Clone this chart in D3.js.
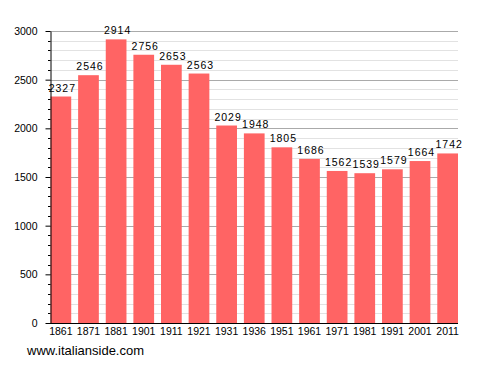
<!DOCTYPE html>
<html>
<head>
  <meta charset="utf-8">
  <script src="https://d3js.org/d3.v7.min.js"></script>
  <style>
    body { margin: 0; background: #fff; }
    text { font-family: "Liberation Sans", Arial, sans-serif; fill: #000; }
    .tick-label { font-size: 10.5px; }
    .value-label { font-size: 10.5px; letter-spacing: 1px; text-anchor: middle; }
    .bar { fill: #ff6464; }
  </style>
</head>
<body>
  <script>
    var years = ["1861", "1871", "1881", "1901", "1911", "1921", "1931", "1936",
                 "1951", "1961", "1971", "1981", "1991", "2001", "2011"];
    var population = [2327, 2546, 2914, 2756, 2653, 2563, 2029, 1948,
                      1805, 1686, 1562, 1539, 1579, 1664, 1742];
    var majorTicks = [0, 500, 1000, 1500, 2000, 2500, 3000];
    var minorTicks = d3.range(0, 3001, 100);

    var data = years.map((y, i) => ({ year: y, value: population[i] }));

    var svg = d3.select("body").append("svg")
        .attr("width", 488)
        .attr("height", 373);

    var x = d3.scaleBand()
        .domain(years)
        .range([50.5, 458])
        .paddingInner(0.25)
        .paddingOuter(0);

    var y = d3.scaleLinear()
        .domain([0, 3000])
        .range([323, 31]);

    // minor grid
    svg.append("g").selectAll("line")
        .data(minorTicks.filter(d => d % 500 !== 0))
      .enter().append("line")
        .attr("x1", 50).attr("x2", 458)
        .attr("y1", d => Math.round(y(d)) + 0.5)
        .attr("y2", d => Math.round(y(d)) + 0.5)
        .attr("stroke", "#e2e2e2");

    // major grid
    svg.append("g").selectAll("line")
        .data(majorTicks.filter(d => d > 0))
      .enter().append("line")
        .attr("x1", 50).attr("x2", 458)
        .attr("y1", d => Math.round(y(d)) + 0.5)
        .attr("y2", d => Math.round(y(d)) + 0.5)
        .attr("stroke", "#aaaaaa");

    // bars
    svg.selectAll(".bar")
        .data(data)
      .enter().append("rect")
        .attr("class", "bar")
        .attr("x", d => x(d.year))
        .attr("width", x.bandwidth())
        .attr("y", d => y(d.value))
        .attr("height", d => y(0) - y(d.value));

    // value labels
    svg.selectAll(".value-label")
        .data(data)
      .enter().append("text")
        .attr("class", "value-label")
        .attr("x", d => x(d.year) + x.bandwidth() / 2 + 1.5)
        .attr("y", d => y(d.value) - 5)
        .text(d => d.value);

    // y axis
    var yAxis = d3.axisLeft(y).tickValues(majorTicks).tickFormat(d3.format("d"))
        .tickSize(5).tickSizeOuter(0).tickPadding(8);
    var yg = svg.append("g").attr("transform", "translate(50.5,0)").call(yAxis);
    yg.select(".domain").attr("stroke", "#000");
    yg.selectAll(".tick line").attr("stroke", "#000");
    yg.selectAll(".tick text").attr("class", "tick-label").attr("font-family", null).attr("font-size", null);

    // minor y ticks
    svg.append("g").selectAll("line")
        .data(minorTicks.filter(d => d % 500 !== 0))
      .enter().append("line")
        .attr("x1", 48).attr("x2", 50.5)
        .attr("y1", d => Math.round(y(d)) + 0.5)
        .attr("y2", d => Math.round(y(d)) + 0.5)
        .attr("stroke", "#000");

    // x axis
    svg.append("line")
        .attr("x1", 50).attr("x2", 458)
        .attr("y1", 323.5).attr("y2", 323.5)
        .attr("stroke", "#000");

    svg.selectAll(".x-label")
        .data(years)
      .enter().append("text")
        .attr("class", "tick-label")
        .attr("text-anchor", "middle")
        .attr("x", d => x(d) + x.bandwidth() / 2)
        .attr("y", 335)
        .text(d => d);

    svg.append("text")
        .attr("x", 27)
        .attr("y", 355)
        .style("font-size", "13px")
        .text("www.italianside.com");
  </script>
</body>
</html>
